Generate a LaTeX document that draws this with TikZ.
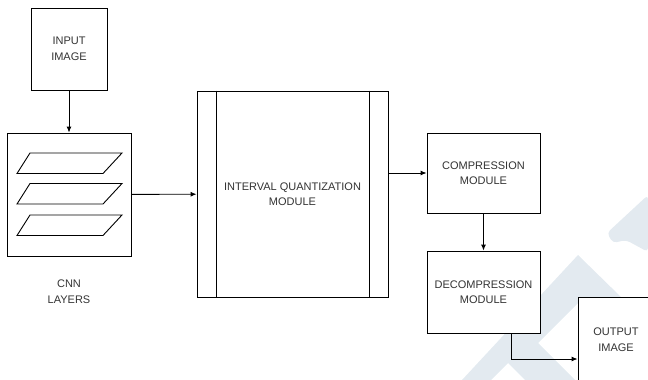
\documentclass[tikz,border=0pt]{standalone}
\usepackage{fontspec}
\setmainfont{Liberation Sans}
\usetikzlibrary{arrows.meta,positioning}

\begin{document}
\begin{tikzpicture}[x=1pt,y=-1pt,
    moduleBox/.style={draw=borderColour, fill=white, line width=0.9pt, text=textColour,
        align=center, font=\fontsize{11}{15.5}\selectfont, inner sep=0pt},
    arrowLine/.style={draw=borderColour, line width=0.9pt, -{Latex[length=6pt,width=5pt]}}]
    \definecolor{borderColour}{HTML}{000000}
    \definecolor{textColour}{HTML}{333333}
    \definecolor{markColour}{HTML}{E3EAF0}

    \def\barWidth{19.5}

    \useasboundingbox (0,0) rectangle (648,380);
    \clip (0,0) rectangle (648,380);

    % Watermark in the background
    \fill[markColour, rounded corners=4pt] (648,195) -- (607,233) -- (613,243) -- (626,240) -- (648,252) -- cycle;
    \fill[markColour] (578,255) -- (622,298) -- (578,298) -- (578,303) -- (538,343) -- (575,380)
        -- (525,380) -- (508,363) -- (491,380) -- (462,380) -- cycle;

    % Modules
    \node[moduleBox, minimum width=76, minimum height=82] (inp) at (69,49) {INPUT\\IMAGE};
    \node[moduleBox, minimum width=124, minimum height=123] (cnn) at (69,194.5) {};
    \node[moduleBox, minimum width=191, minimum height=206] (iqm) at (292.5,194) {INTERVAL QUANTIZATION\\MODULE};
    \node[moduleBox, minimum width=113, minimum height=80] (comp) at (483.5,173) {COMPRESSION\\MODULE};
    \node[moduleBox, minimum width=113, minimum height=82] (decomp) at (483.5,292) {DECOMPRESSION\\MODULE};
    \node[moduleBox, minimum width=76, minimum height=84] (out) at (616,339.5) {OUTPUT\\IMAGE};

    % Label under the CNN block
    \node[moduleBox, draw=none, fill=none, below=23pt of cnn] (cnnLabel) {CNN\\LAYERS};

    % CNN layers
    \foreach \y in {153,183.5,215}
        \draw[borderColour, line width=0.9pt] (30,\y) -- (122,\y) -- (103,\y+20.5) -- (17,\y+20.5) -- cycle;

    % Side bars of the quantization module
    \draw[borderColour, line width=0.9pt] ([xshift=\barWidth]iqm.north west) -- ([xshift=\barWidth]iqm.south west);
    \draw[borderColour, line width=0.9pt] ([xshift=-\barWidth]iqm.north east) -- ([xshift=-\barWidth]iqm.south east);

    % Connectors
    \draw[arrowLine] (inp) -- (cnn);
    \draw[arrowLine] (cnn) -- (iqm);
    \draw[arrowLine] (iqm.east |- comp.west) -- (comp.west);
    \draw[arrowLine] (comp) -- (decomp);
    \draw[arrowLine] ([xshift=28pt]decomp.south) |- ([yshift=-19.5pt]out.west);

\end{tikzpicture}
\end{document}
